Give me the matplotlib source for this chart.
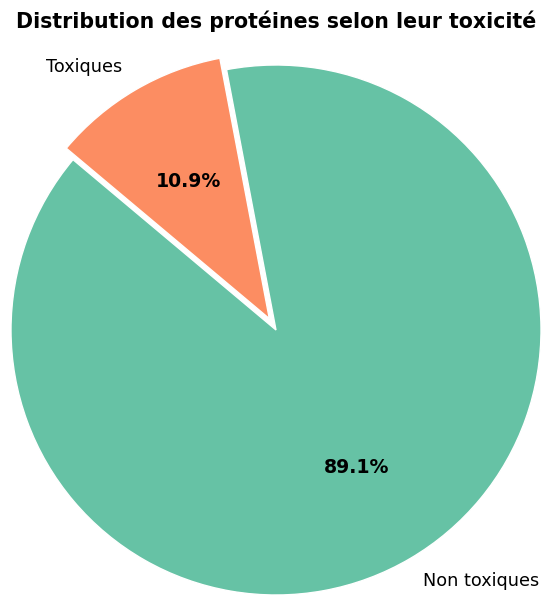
import matplotlib.pyplot as plt

labels = ["Non toxiques", "Toxiques"]
sizes = [89.1, 10.9]
colors = ["#66c2a5", "#fc8d62"]
explode = [0, 0.05]

W, H = 542, 597
cx, cy, r = 276, 330, 265  # pie centre and radius in pixels

fig = plt.figure(figsize=(W / 100, H / 100), dpi=100)
ax = fig.add_axes([(cx - r) / W, (H - cy - r) / H, 2 * r / W, 2 * r / H])

wedges, texts, autotexts = ax.pie(
    sizes,
    labels=labels,
    colors=colors,
    explode=explode,
    startangle=140,
    autopct="%1.1f%%",
    wedgeprops={"edgecolor": "white", "linewidth": 1},
    textprops={"fontsize": 12.7},
)
for w in wedges:
    w.set_clip_on(False)
for t in autotexts:
    t.set_fontweight("bold")
    t.set_fontsize(13.6)

ax.set_xlim(-1, 1)
ax.set_ylim(-1, 1)
ax.set_aspect("equal")
ax.axis("off")

fig.text(cx / W, 1 - 21 / H, "Distribution des protéines selon leur toxicité",
         ha="center", va="center", fontsize=14.8, fontweight="bold")

fig.savefig("out.png", dpi=100)
plt.close(fig)
